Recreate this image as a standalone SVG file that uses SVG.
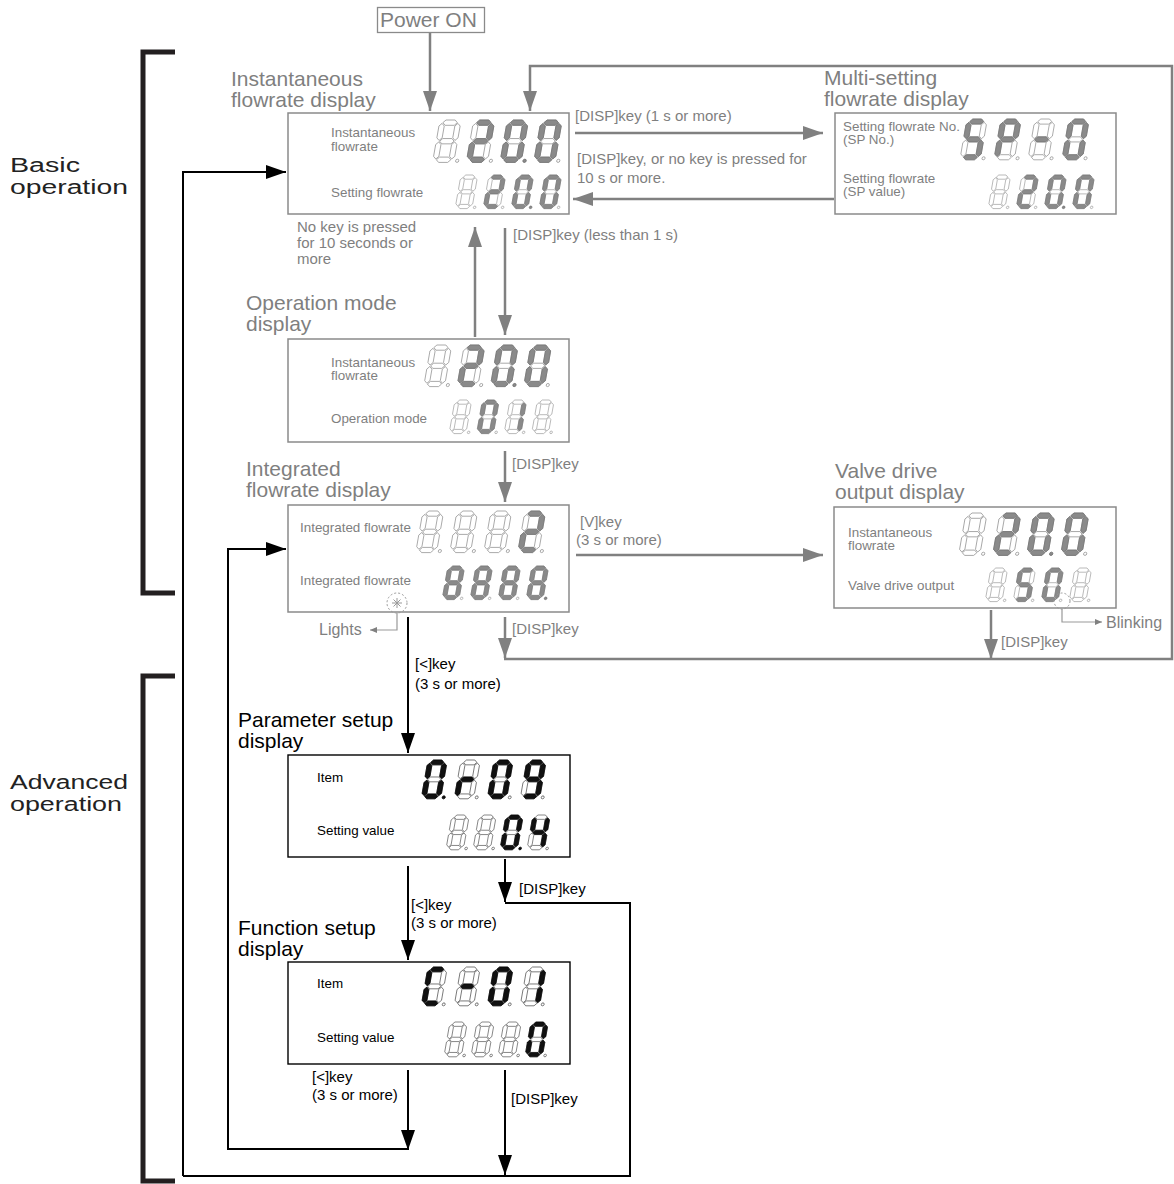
<svg xmlns="http://www.w3.org/2000/svg" xmlns:xlink="http://www.w3.org/1999/xlink" width="1174" height="1184" viewBox="0 0 1174 1184">
<style>
text{font-family:"Liberation Sans",Arial,sans-serif}
.gt{fill:#7f7f7f}
.bt{fill:#000}
.t21{font-size:21px}
.t15{font-size:15px}
.t13{font-size:13.4px}
.t16{font-size:16px}
.br{font-size:20px;fill:#222}
.gbox{fill:#fff;stroke:#8a8a8a;stroke-width:1.5}
.bbox{fill:#fff;stroke:#000;stroke-width:1.4}
.gl{fill:none;stroke:#808080;stroke-width:2.5}
.bl{fill:none;stroke:#000;stroke-width:2}
.brk{fill:none;stroke:#231f20;stroke-width:5}
.go{fill:#fff;stroke:#8f8f8f;stroke-width:0.7}
.gn{fill:#8a8a8a;stroke:#6f6f6f;stroke-width:0.6}
.bo{fill:#fff;stroke:#222;stroke-width:0.6}
.bn{fill:#111;stroke:#000;stroke-width:0.6}
</style>
<defs>
<marker id="ag" markerUnits="userSpaceOnUse" markerWidth="20" markerHeight="14" refX="20" refY="7" orient="auto"><path d="M0,0 L20,7 L0,14z" fill="#808080"/></marker>
<marker id="ab" markerUnits="userSpaceOnUse" markerWidth="20" markerHeight="14" refX="20" refY="7" orient="auto"><path d="M0,0 L20,7 L0,14z" fill="#000"/></marker>
<marker id="as" markerUnits="userSpaceOnUse" markerWidth="7" markerHeight="6" refX="7" refY="3" orient="auto"><path d="M0,0 L7,3 L0,6z" fill="#808080"/></marker>
<path id="sa" d="M3.2,2.5 5.7,0 14.3,0 16.8,2.5 14.3,5 5.7,5z"/>
<path id="sg" d="M3.2,20 5.7,17.5 14.3,17.5 16.8,20 14.3,22.5 5.7,22.5z"/>
<path id="sd" d="M3.2,37.5 5.7,35 14.3,35 16.8,37.5 14.3,40 5.7,40z"/>
<path id="sf" d="M2.5,3.2 5,5.7 5,16.8 2.5,19.3 0,16.8 0,5.7z"/>
<path id="sb" d="M17.5,3.2 20,5.7 20,16.8 17.5,19.3 15,16.8 15,5.7z"/>
<path id="se" d="M2.5,20.7 5,23.2 5,34.3 2.5,36.8 0,34.3 0,23.2z"/>
<path id="sc" d="M17.5,20.7 20,23.2 20,34.3 17.5,36.8 15,34.3 15,23.2z"/>
<circle id="sp" cx="23" cy="38.5" r="1.5"/>
<g id="off"><use href="#sa"/><use href="#sb"/><use href="#sc"/><use href="#sd"/><use href="#se"/><use href="#sf"/><use href="#sg"/><use href="#sp"/></g>
<g id="n0"><use href="#sa"/><use href="#sb"/><use href="#sc"/><use href="#sd"/><use href="#se"/><use href="#sf"/></g>
<g id="n1"><use href="#sb"/><use href="#sc"/></g>
<g id="n2"><use href="#sa"/><use href="#sb"/><use href="#sg"/><use href="#se"/><use href="#sd"/></g>
<g id="n4"><use href="#sf"/><use href="#sg"/><use href="#sb"/><use href="#sc"/></g>
<g id="n5"><use href="#sa"/><use href="#sf"/><use href="#sg"/><use href="#sc"/><use href="#sd"/></g>
<g id="n8"><use href="#n0"/><use href="#sg"/></g>
<g id="n9"><use href="#sa"/><use href="#sb"/><use href="#sc"/><use href="#sd"/><use href="#sf"/><use href="#sg"/></g>
<g id="nP"><use href="#sa"/><use href="#sb"/><use href="#sf"/><use href="#sg"/><use href="#se"/></g>
<g id="nC"><use href="#sa"/><use href="#sd"/><use href="#se"/><use href="#sf"/></g>
<g id="nm"><use href="#sg"/></g>
<g id="nr"><use href="#se"/><use href="#sg"/></g>
</defs>

<rect width="1174" height="1184" fill="#fff"/>

<!-- brackets -->
<g id="bracket-basic">
<path class="brk" d="M175,52 H143 V593 H175"/>
<text class="br" x="10" y="172" textLength="70" lengthAdjust="spacingAndGlyphs">Basic</text>
<text class="br" x="10" y="194" textLength="118" lengthAdjust="spacingAndGlyphs">operation</text>
</g>
<g id="bracket-advanced">
<path class="brk" d="M175,676 H143 V1181 H175"/>
<text class="br" x="10" y="789" textLength="118" lengthAdjust="spacingAndGlyphs">Advanced</text>
<text class="br" x="10" y="811" textLength="112" lengthAdjust="spacingAndGlyphs">operation</text>
</g>

<!-- connectors -->
<g id="connectors">
<path class="gl" d="M430,32 V111" marker-end="url(#ag)"/>
<path class="gl" d="M504,659 H1172 V66 H530 V111" marker-end="url(#ag)"/>
<path class="gl" d="M575,133 H823" marker-end="url(#ag)"/>
<path class="gl" d="M834,199 H573" marker-end="url(#ag)"/>
<path class="gl" d="M475,337 V227" marker-end="url(#ag)"/>
<path class="gl" d="M505,228 V335" marker-end="url(#ag)"/>
<path class="gl" d="M505,451 V502" marker-end="url(#ag)"/>
<path class="gl" d="M576,555 H823" marker-end="url(#ag)"/>
<path class="gl" d="M505,617 V658" marker-end="url(#ag)"/>
<path class="gl" d="M991,610 V659" marker-end="url(#ag)"/>
<path fill="none" stroke="#999" stroke-width="1.2" d="M397,613 V630 H370" marker-end="url(#as)"/>
<path fill="none" stroke="#999" stroke-width="1.2" d="M1062,609 V622 H1102" marker-end="url(#as)"/>

<path class="bl" d="M183,1176 V172 H286" marker-end="url(#ab)"/>
<path class="bl" d="M408,1149 H228 V549 H286" marker-end="url(#ab)"/>
<path class="bl" d="M408,617 V753" marker-end="url(#ab)"/>
<path class="bl" d="M408,866 V960" marker-end="url(#ab)"/>
<path class="bl" d="M505,859 V902" marker-end="url(#ab)"/>
<path class="bl" d="M505,903 H630 V1176 H183"/>
<path class="bl" d="M408,1070 V1150" marker-end="url(#ab)"/>
<path class="bl" d="M505,1070 V1175" marker-end="url(#ab)"/>

<text class="gt t15" x="575" y="121">[DISP]key (1 s or more)</text>
<text class="gt t15" x="577" y="164">[DISP]key, or no key is pressed for</text>
<text class="gt t15" x="577" y="183">10 s or more.</text>
<text class="gt t15" x="513" y="240">[DISP]key (less than 1 s)</text>
<text class="gt t15" x="512" y="469">[DISP]key</text>
<text class="gt t15" x="580" y="527">[V]key</text>
<text class="gt t15" x="576" y="545">(3 s or more)</text>
<text class="gt t15" x="512" y="634">[DISP]key</text>
<text class="gt t15" x="1001" y="647">[DISP]key</text>
<text class="gt t16" x="319" y="635">Lights</text>
<text class="gt t16" x="1106" y="628">Blinking</text>
<text class="bt t15" x="415" y="669">[&lt;]key</text>
<text class="bt t15" x="415" y="689">(3 s or more)</text>
<text class="bt t15" x="411" y="910">[&lt;]key</text>
<text class="bt t15" x="411" y="928">(3 s or more)</text>
<text class="bt t15" x="519" y="894">[DISP]key</text>
<text class="bt t15" x="312" y="1082">[&lt;]key</text>
<text class="bt t15" x="312" y="1100">(3 s or more)</text>
<text class="bt t15" x="511" y="1104">[DISP]key</text>
</g>

<!-- Power ON -->
<g id="power-on">
<rect x="377.5" y="7.5" width="107" height="25" fill="#fff" stroke="#8a8a8a" stroke-width="1.3"/>
<text class="gt" x="380" y="27" font-size="21">Power ON</text>
</g>

<!-- Instantaneous flowrate display -->
<g id="instantaneous">
<text class="gt t21" x="231" y="86">Instantaneous</text>
<text class="gt t21" x="231" y="107">flowrate display</text>
<rect class="gbox" x="288" y="113" width="281" height="101"/>
<text class="gt t13" x="331" y="137">Instantaneous</text>
<text class="gt t13" x="331" y="151">flowrate</text>
<text class="gt t13" x="331" y="197">Setting flowrate</text>
<g transform="translate(440,120) scale(1.06) skewX(-10)"><use href="#off" class="go"/></g>
<g transform="translate(473.7,120) scale(1.06) skewX(-10)"><use href="#off" class="go"/><use href="#n2" class="gn"/></g>
<g transform="translate(507.4,120) scale(1.06) skewX(-10)"><use href="#off" class="go"/><use href="#n0" class="gn"/><use href="#sp" class="gn"/></g>
<g transform="translate(541.1,120) scale(1.06) skewX(-10)"><use href="#off" class="go"/><use href="#n0" class="gn"/></g>
<g transform="translate(461,175) scale(0.84) skewX(-10)"><use href="#off" class="go"/></g>
<g transform="translate(489,175) scale(0.84) skewX(-10)"><use href="#off" class="go"/><use href="#n2" class="gn"/></g>
<g transform="translate(517,175) scale(0.84) skewX(-10)"><use href="#off" class="go"/><use href="#n0" class="gn"/><use href="#sp" class="gn"/></g>
<g transform="translate(545,175) scale(0.84) skewX(-10)"><use href="#off" class="go"/><use href="#n0" class="gn"/></g>
<text class="gt t15" x="297" y="232">No key is pressed</text>
<text class="gt t15" x="297" y="248">for 10 seconds or</text>
<text class="gt t15" x="297" y="264">more</text>
</g>

<!-- Multi-setting flowrate display -->
<g id="multi-setting">
<text class="gt t21" x="824" y="85">Multi-setting</text>
<text class="gt t21" x="824" y="106">flowrate display</text>
<rect class="gbox" x="835" y="113" width="281" height="101"/>
<text class="gt t13" x="843" y="131">Setting flowrate No.</text>
<text class="gt t13" x="843" y="144">(SP No.)</text>
<text class="gt t13" x="843" y="183">Setting flowrate</text>
<text class="gt t13" x="843" y="196">(SP value)</text>
<g transform="translate(967,119) scale(1.02) skewX(-10)"><use href="#off" class="go"/><use href="#n5" class="gn"/></g>
<g transform="translate(1001,119) scale(1.02) skewX(-10)"><use href="#off" class="go"/><use href="#nP" class="gn"/></g>
<g transform="translate(1035,119) scale(1.02) skewX(-10)"><use href="#off" class="go"/><use href="#nm" class="gn"/></g>
<g transform="translate(1069,119) scale(1.02) skewX(-10)"><use href="#off" class="go"/><use href="#n0" class="gn"/></g>
<g transform="translate(994,175) scale(0.84) skewX(-10)"><use href="#off" class="go"/></g>
<g transform="translate(1022,175) scale(0.84) skewX(-10)"><use href="#off" class="go"/><use href="#n2" class="gn"/></g>
<g transform="translate(1050,175) scale(0.84) skewX(-10)"><use href="#off" class="go"/><use href="#n0" class="gn"/><use href="#sp" class="gn"/></g>
<g transform="translate(1078,175) scale(0.84) skewX(-10)"><use href="#off" class="go"/><use href="#n0" class="gn"/></g>
</g>

<!-- Operation mode display -->
<g id="operation-mode">
<text class="gt t21" x="246" y="310">Operation mode</text>
<text class="gt t21" x="246" y="331">display</text>
<rect class="gbox" x="288" y="339" width="281" height="103"/>
<text class="gt t13" x="331" y="367">Instantaneous</text>
<text class="gt t13" x="331" y="380">flowrate</text>
<text class="gt t13" x="331" y="423">Operation mode</text>
<g transform="translate(431,345) scale(1.04) skewX(-10)"><use href="#off" class="go"/></g>
<g transform="translate(464.3,345) scale(1.04) skewX(-10)"><use href="#off" class="go"/><use href="#n2" class="gn"/></g>
<g transform="translate(497.6,345) scale(1.04) skewX(-10)"><use href="#off" class="go"/><use href="#n0" class="gn"/><use href="#sp" class="gn"/></g>
<g transform="translate(530.9,345) scale(1.04) skewX(-10)"><use href="#off" class="go"/><use href="#n0" class="gn"/></g>
<g transform="translate(455,400) scale(0.84) skewX(-10)"><use href="#off" class="go"/></g>
<g transform="translate(482.5,400) scale(0.84) skewX(-10)"><use href="#off" class="go"/><use href="#n0" class="gn"/></g>
<g transform="translate(510,400) scale(0.84) skewX(-10)"><use href="#off" class="go"/><use href="#n1" class="gn"/></g>
<g transform="translate(537.5,400) scale(0.84) skewX(-10)"><use href="#off" class="go"/></g>
</g>

<!-- Integrated flowrate display -->
<g id="integrated">
<text class="gt t21" x="246" y="476">Integrated</text>
<text class="gt t21" x="246" y="497">flowrate display</text>
<rect class="gbox" x="288" y="505" width="281" height="107"/>
<text class="gt t13" x="300" y="532">Integrated flowrate</text>
<text class="gt t13" x="300" y="585">Integrated flowrate</text>
<g transform="translate(423,511) scale(1.04) skewX(-10)"><use href="#off" class="go"/></g>
<g transform="translate(457,511) scale(1.04) skewX(-10)"><use href="#off" class="go"/></g>
<g transform="translate(491,511) scale(1.04) skewX(-10)"><use href="#off" class="go"/></g>
<g transform="translate(525,511) scale(1.04) skewX(-10)"><use href="#off" class="go"/><use href="#n2" class="gn"/></g>
<g transform="translate(448,566) scale(0.84) skewX(-10)"><use href="#off" class="go"/><use href="#n8" class="gn"/></g>
<g transform="translate(476,566) scale(0.84) skewX(-10)"><use href="#off" class="go"/><use href="#n8" class="gn"/></g>
<g transform="translate(504,566) scale(0.84) skewX(-10)"><use href="#off" class="go"/><use href="#n8" class="gn"/></g>
<g transform="translate(532,566) scale(0.84) skewX(-10)"><use href="#off" class="go"/><use href="#n8" class="gn"/><use href="#sp" class="gn"/></g>
<circle cx="397" cy="603" r="10" fill="none" stroke="#999" stroke-width="1" stroke-dasharray="2 2"/>
<path d="M397,598 V608 M392,603 H402 M393.5,599.5 L400.5,606.5 M400.5,599.5 L393.5,606.5" stroke="#999" stroke-width="1"/>
</g>

<!-- Valve drive output display -->
<g id="valve-drive">
<text class="gt t21" x="835" y="478">Valve drive</text>
<text class="gt t21" x="835" y="499">output display</text>
<rect class="gbox" x="834" y="507" width="282" height="101"/>
<text class="gt t13" x="848" y="537">Instantaneous</text>
<text class="gt t13" x="848" y="550">flowrate</text>
<text class="gt t13" x="848" y="590">Valve drive output</text>
<g transform="translate(966,513) scale(1.06) skewX(-10)"><use href="#off" class="go"/></g>
<g transform="translate(1000,513) scale(1.06) skewX(-10)"><use href="#off" class="go"/><use href="#n2" class="gn"/></g>
<g transform="translate(1034,513) scale(1.06) skewX(-10)"><use href="#off" class="go"/><use href="#n0" class="gn"/><use href="#sp" class="gn"/></g>
<g transform="translate(1068,513) scale(1.06) skewX(-10)"><use href="#off" class="go"/><use href="#n0" class="gn"/></g>
<g transform="translate(991,568) scale(0.84) skewX(-10)"><use href="#off" class="go"/></g>
<g transform="translate(1019,568) scale(0.84) skewX(-10)"><use href="#off" class="go"/><use href="#n5" class="gn"/></g>
<g transform="translate(1047,568) scale(0.84) skewX(-10)"><use href="#off" class="go"/><use href="#n0" class="gn"/></g>
<g transform="translate(1075,568) scale(0.84) skewX(-10)"><use href="#off" class="go"/></g>
<circle cx="1062" cy="601" r="8" fill="none" stroke="#999" stroke-width="1" stroke-dasharray="2 2"/>
</g>

<!-- Parameter setup display -->
<g id="parameter-setup">
<text class="bt t21" x="238" y="727">Parameter setup</text>
<text class="bt t21" x="238" y="748">display</text>
<rect class="bbox" x="288" y="755" width="282" height="102"/>
<text class="bt t13" x="317" y="782">Item</text>
<text class="bt t13" x="317" y="835">Setting value</text>
<g transform="translate(428,760) scale(0.97) skewX(-10)"><use href="#off" class="bo"/><use href="#n0" class="bn"/><use href="#sp" class="bn"/></g>
<g transform="translate(461,760) scale(0.97) skewX(-10)"><use href="#off" class="bo"/><use href="#nr" class="bn"/></g>
<g transform="translate(494,760) scale(0.97) skewX(-10)"><use href="#off" class="bo"/><use href="#n0" class="bn"/></g>
<g transform="translate(527,760) scale(0.97) skewX(-10)"><use href="#off" class="bo"/><use href="#n9" class="bn"/></g>
<g transform="translate(452,815) scale(0.87) skewX(-10)"><use href="#off" class="bo"/></g>
<g transform="translate(479,815) scale(0.87) skewX(-10)"><use href="#off" class="bo"/></g>
<g transform="translate(506,815) scale(0.87) skewX(-10)"><use href="#off" class="bo"/><use href="#n0" class="bn"/><use href="#sp" class="bn"/></g>
<g transform="translate(533,815) scale(0.87) skewX(-10)"><use href="#off" class="bo"/><use href="#n4" class="bn"/></g>
</g>

<!-- Function setup display -->
<g id="function-setup">
<text class="bt t21" x="238" y="935">Function setup</text>
<text class="bt t21" x="238" y="956">display</text>
<rect class="bbox" x="288" y="962" width="282" height="102"/>
<text class="bt t13" x="317" y="988">Item</text>
<text class="bt t13" x="317" y="1042">Setting value</text>
<g transform="translate(428,967) scale(0.97) skewX(-10)"><use href="#off" class="bo"/><use href="#nC" class="bn"/></g>
<g transform="translate(461,967) scale(0.97) skewX(-10)"><use href="#off" class="bo"/><use href="#nm" class="bn"/></g>
<g transform="translate(494,967) scale(0.97) skewX(-10)"><use href="#off" class="bo"/><use href="#n0" class="bn"/></g>
<g transform="translate(527,967) scale(0.97) skewX(-10)"><use href="#off" class="bo"/><use href="#n1" class="bn"/></g>
<g transform="translate(450,1022) scale(0.87) skewX(-10)"><use href="#off" class="bo"/></g>
<g transform="translate(477,1022) scale(0.87) skewX(-10)"><use href="#off" class="bo"/></g>
<g transform="translate(504,1022) scale(0.87) skewX(-10)"><use href="#off" class="bo"/></g>
<g transform="translate(531,1022) scale(0.87) skewX(-10)"><use href="#off" class="bo"/><use href="#n0" class="bn"/></g>
</g>
</svg>
